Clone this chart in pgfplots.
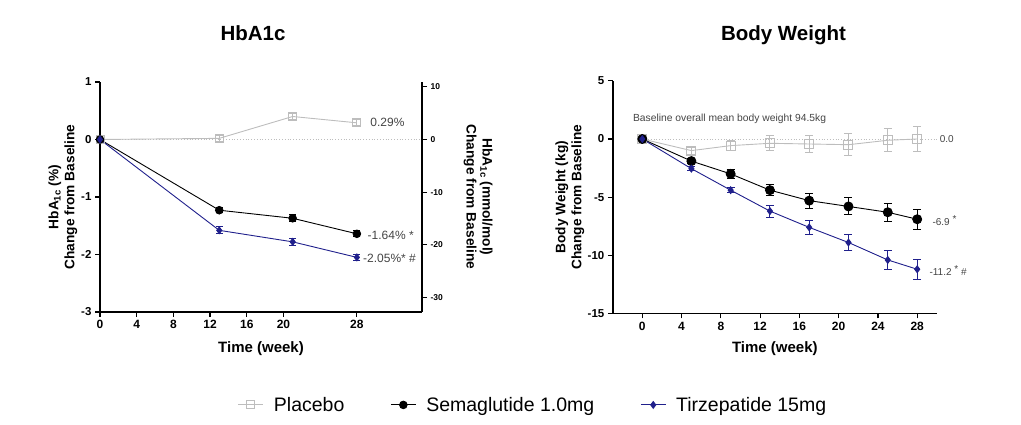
\documentclass[border=0pt]{standalone}
\usepackage{pgfplots}
\pgfplotsset{compat=1.18}
\usepackage{fontspec}
\setmainfont{Liberation Sans}
\definecolor{plc}{HTML}{BDBDBD}
\definecolor{tirz}{HTML}{20208C}
\definecolor{anno}{HTML}{444444}
\begin{document}
\begin{tikzpicture}[x=1pt,y=1pt]
\path[use as bounding box] (0pt,0pt) rectangle (1021pt,425pt);
\pgfplotsset{
 base/.style={scale only axis, axis x line*=bottom, axis y line*=left,
   axis line style={line width=1.6pt,-}, tick style={line width=1.2pt, black},
   tick align=outside, major tick length=5pt,
   xticklabel style={font=\bfseries\fontsize{12}{13}\selectfont},
   yticklabel style={font=\bfseries\fontsize{11.5}{13}\selectfont},
   xlabel style={font=\bfseries\fontsize{15}{17}\selectfont, anchor=center},
   ylabel style={font=\bfseries\fontsize{13.7}{16}\selectfont, align=center, anchor=center},
   clip=false, /pgf/number format/assume math mode=true},
 ebar/.style 2 args={error bars/.cd, y dir=both, y explicit,
   error bar style={line width=1pt, #1},
   error mark options={rotate=90, mark size=#2, line width=1pt, #1}},
 plcS/.style={color=plc, line width=0.9pt, mark=square, mark size=4pt, mark options={line width=1pt, fill=white}},
 semS/.style={color=black, line width=0.9pt, mark=*, mark size=3.8pt},
 tirS/.style={color=tirz, line width=0.9pt, mark=diamond*, mark size=3.4pt},
}
% ---------------- HbA1c ----------------
\begin{axis}[base, at={(100pt,285.5pt)}, anchor=origin, width=322pt, height=230pt,
  xmin=0, xmax=35.1, ymin=-3, ymax=1,
  xtick={0,4,8,12,16,20,28}, xticklabels={0,4,8,12,16,20,28},
  ytick={-3,-2,-1,0,1}, yticklabels={-3,-2,-1,0,1},
  xlabel={Time (week)},
  xlabel style={at={(axis description cs:0.5,-0.161)}},
  ylabel={HbA\textsubscript{1c} (\%)\\Change from Baseline},
  ylabel style={at={(axis description cs:-0.115,0.5)}},
  legend columns=3,
  legend style={at={(axis description cs:1.345,-0.404)}, anchor=center, draw=none,
    font=\fontsize{19.5}{21}\selectfont,
    /tikz/every odd column/.append style={column sep=8pt},
    /tikz/every even column/.append style={column sep=44pt}},
  legend image code/.code={\draw[mark repeat=2, mark phase=2] plot coordinates {(0pt,0pt) (12.5pt,0pt) (25pt,0pt)};},
  legend cell align=left]
\addplot[plc, dotted, line width=0.8pt, forget plot] coordinates {(0,0) (35.1,0)};
\addplot[plcS, ebar={plc}{3.5pt}] coordinates {(0,0) +- (0,0) (13,0.02) +- (0,0.05) (21,0.40) +- (0,0.06) (28,0.29) +- (0,0.05)};
\addlegendentry{Placebo}
\addplot[semS, ebar={black}{3.5pt}] coordinates {(0,0) +- (0,0) (13,-1.23) +- (0,0.04) (21,-1.37) +- (0,0.06) (28,-1.64) +- (0,0.05)};
\addlegendentry{Semaglutide 1.0mg}
\addplot[tirS, ebar={tirz}{3.5pt}] coordinates {(0,0) +- (0,0) (13,-1.58) +- (0,0.06) (21,-1.78) +- (0,0.06) (28,-2.05) +- (0,0.05)};
\addlegendentry{Tirzepatide 15mg}
\node[anchor=west, text=anno, font=\fontsize{12}{14}\selectfont] at (axis cs:29.1,0.29) {0.29\%};
\node[anchor=west, text=anno, font=\fontsize{12}{14}\selectfont] at (axis cs:28.8,-1.66) {-1.64\% *};
\node[anchor=west, text=anno, font=\fontsize{12}{14}\selectfont] at (axis cs:28.3,-2.07) {-2.05\%* \#};
\end{axis}
\begin{axis}[scale only axis, at={(100pt,285.5pt)}, anchor=origin, width=322pt, height=230pt,
  xmin=0, xmax=35.1, ymin=-32.79, ymax=10.93,
  axis x line=none, axis y line*=right,
  axis line style={line width=1.6pt,-}, tick style={line width=1.2pt, black},
  tick align=outside, major tick length=5pt,
  ytick={-30,-20,-10,0,10}, yticklabels={-30,-20,-10,0,10},
  ticklabel style={font=\bfseries\fontsize{8.5}{10}\selectfont},
  ylabel={HbA\textsubscript{1c} (mmol/mol)\\Change from Baseline},
  ylabel style={at={(axis description cs:1.174,0.5)}, anchor=center, rotate=180,
    font=\bfseries\fontsize{13.7}{16}\selectfont, align=center}]
\addplot[draw=none] coordinates {(0,0)};
\end{axis}
% ---------------- Body weight ----------------
\begin{axis}[base, at={(642.3pt,286pt)}, anchor=origin, width=324pt, height=232.6pt,
  xmin=-3, xmax=30, ymin=-15, ymax=5,
  xtick={0,4,8,12,16,20,24,28}, xticklabels={0,4,8,12,16,20,24,28},
  ytick={-15,-10,-5,0,5}, yticklabels={-15,-10,-5,0,5},
  xlabel={Time (week)},
  xlabel style={at={(axis description cs:0.5,-0.153)}},
  ylabel={Body Weight (kg)\\Change from Baseline},
  ylabel style={at={(axis description cs:-0.133,0.5)}}]
\addplot[plc, dotted, line width=0.8pt, forget plot] coordinates {(0,0) (30,0)};
\addplot[plcS, mark size=4.5pt, ebar={plc}{4pt}] coordinates {(0,0) +- (0,0) (5,-1.0) +- (0,0.3) (9,-0.57) +- (0,0.4) (13,-0.37) +- (0,0.65) (17,-0.43) +- (0,0.75) (21,-0.49) +- (0,0.92) (25,-0.11) +- (0,0.97) (28,0.0) +- (0,1.1)};
\addplot[semS, mark size=4.5pt, ebar={black}{4pt}] coordinates {(0,0) +- (0,0) (5,-1.9) +- (0,0.2) (9,-3.0) +- (0,0.36) (13,-4.4) +- (0,0.5) (17,-5.3) +- (0,0.65) (21,-5.8) +- (0,0.73) (25,-6.3) +- (0,0.79) (28,-6.9) +- (0,0.87)};
\addplot[tirS, ebar={tirz}{4pt}] coordinates {(0,0) +- (0,0) (5,-2.55) +- (0,0.2) (9,-4.4) +- (0,0.2) (13,-6.2) +- (0,0.52) (17,-7.6) +- (0,0.57) (21,-8.9) +- (0,0.73) (25,-10.4) +- (0,0.8) (28,-11.2) +- (0,0.87)};
\node[anchor=west, text=anno, font=\fontsize{10.3}{12}\selectfont] at (axis cs:-1.3,1.72) {Baseline overall mean body weight 94.5kg};
\node[anchor=west, text=anno, font=\fontsize{10}{12}\selectfont] at (axis cs:29.95,0) {0.0};
\node[anchor=west, text=anno, font=\fontsize{10}{12}\selectfont] at (axis cs:29.2,-7.0) {-6.9 \raisebox{3pt}{*}};
\node[anchor=west, text=anno, font=\fontsize{10}{12}\selectfont] at (axis cs:28.9,-11.3) {-11.2 \raisebox{3pt}{*} \#};
\end{axis}
% ---------------- titles ----------------
\node[font=\bfseries\fontsize{20.5}{23}\selectfont] at (253pt,392pt) {HbA1c};
\node[font=\bfseries\fontsize{20.5}{23}\selectfont] at (783.5pt,390pt) {Body Weight};
\end{tikzpicture}
\end{document}
